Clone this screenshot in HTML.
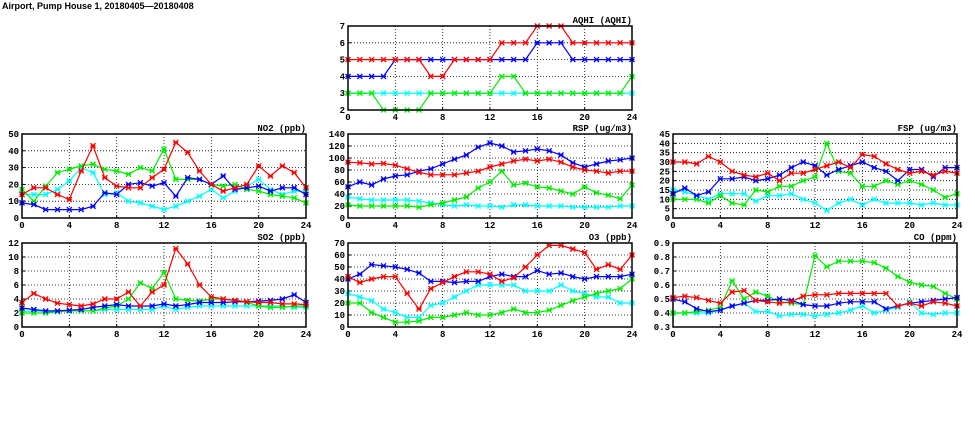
<!DOCTYPE html>
<html><head><meta charset="utf-8"><style>
body{margin:0;background:#fff;width:975px;height:447px;overflow:hidden}
svg{display:block}
text{font-family:"Liberation Mono","DejaVu Sans Mono",monospace;font-weight:bold;font-size:9px;fill:#000}
</style></head><body>
<svg id="s" width="975" height="447" xmlns="http://www.w3.org/2000/svg">
<text x="2" y="9" style="font-family:'Liberation Sans',sans-serif;font-size:9px">Airport, Pump House 1, 20180405—20180408</text>
</svg>
<script>
var S=document.getElementById('s'),h='';
var C={r:'#ff0000',b:'#0000ff',g:'#00ee00',c:'#00ffff'};
function chart(x0,y0,title,ymin,ymax,step,dec,d){
 var W=284,H=84,x1=x0+W,y1=y0+H;
 function X(i){return x0+i*W/24}function Y(v){return y1-(v-ymin)/(ymax-ymin)*H}
 for(var t=0;t<=24;t+=4){var x=X(t);if(t>0&&t<24)h+='<line x1="'+x+'" y1="'+y0+'" x2="'+x+'" y2="'+y1+'" stroke="#000" stroke-width="0.8" stroke-dasharray="1,2"/>';
  h+='<line x1="'+x+'" y1="'+y1+'" x2="'+x+'" y2="'+(y1-3)+'" stroke="#000"/><text x="'+x+'" y="'+(y1+10)+'" text-anchor="middle">'+t+'</text>';}
 for(var v=ymin;v<=ymax+1e-9;v+=step){var y=Y(v);if(v>ymin+1e-9&&v<ymax-1e-9)h+='<line x1="'+x0+'" y1="'+y+'" x2="'+x1+'" y2="'+y+'" stroke="#000" stroke-width="0.8" stroke-dasharray="1,2"/>';
  h+='<line x1="'+x0+'" y1="'+y+'" x2="'+(x0+3)+'" y2="'+y+'" stroke="#000"/><text x="'+(x0-3)+'" y="'+(y+3)+'" text-anchor="end">'+v.toFixed(dec)+'</text>';}
 h+='<text x="'+x1+'" y="'+(y0-3)+'" text-anchor="end">'+title+'</text>';
 ['c','g','b','r'].forEach(function(k){var a=d[k],p='';
  for(var i=0;i<25;i++)p+=X(i).toFixed(1)+','+Y(a[i]).toFixed(1)+' ';
  h+='<polyline points="'+p+'" fill="none" stroke="'+C[k]+'" stroke-width="1.2"/>';
  for(i=0;i<25;i++){var x=X(i),y=Y(a[i]),m=2.5;if(y>y1+1||y<y0-1)continue;
   h+='<path d="M'+(x-m)+','+(y-m)+'L'+(x+m)+','+(y+m)+'M'+(x+m)+','+(y-m)+'L'+(x-m)+','+(y+m)+'M'+(x-m)+','+y+'L'+(x+m)+','+y+'" stroke="'+C[k]+'" stroke-width="1.3"/>';}
 });
 h+='<rect x="'+x0+'" y="'+y0+'" width="'+W+'" height="'+H+'" fill="none" stroke="#000" stroke-width="1.5"/>';
}
chart(348,26,'AQHI (AQHI)',2,7,1,0,{
r:[5,5,5,5,5,5,5,4,4,5,5,5,5,6,6,6,7,7,7,6,6,6,6,6,6],
b:[4,4,4,4,5,5,5,5,5,5,5,5,5,5,5,5,6,6,6,5,5,5,5,5,5],
g:[3,3,3,2,2,2,2,3,3,3,3,3,3,4,4,3,3,3,3,3,3,3,3,3,4],
c:[3,3,3,3,3,3,3,3,3,3,3,3,3,3,3,3,3,3,3,3,3,3,3,3,3]});
chart(22,134,'NO2 (ppb)',0,50,10,0,{
r:[14,18,18,14,11,28,43,24,19,18,18,24,29,45,39,28,20,16,18,20,31,25,31,27,18],
b:[9,8,5,5,5,5,7,15,14,20,21,19,21,13,24,23,20,25,17,18,19,16,18,18,14],
g:[17,10,19,27,29,31,32,29,28,26,30,28,41,23,23,23,20,19,20,17,16,14,13,12,9],
c:[14,14,14,17,22,30,27,14,15,10,9,7,5,7,10,13,17,12,16,19,23,17,14,16,16]});
chart(348,134,'RSP (ug/m3)',0,140,20,0,{
r:[93,92,90,91,88,82,76,72,72,72,75,78,85,90,95,98,95,98,93,85,80,78,75,78,78],
b:[52,60,55,65,70,72,78,82,90,98,105,118,125,120,110,112,115,112,105,92,85,90,95,97,100],
g:[22,20,20,20,20,20,18,22,25,30,35,50,60,78,55,58,52,50,45,40,52,42,38,32,55],
c:[35,32,30,30,30,30,28,25,22,20,22,20,20,18,22,22,20,20,20,18,18,18,18,20,20]});
chart(673,134,'FSP (ug/m3)',0,45,5,0,{
r:[30,30,29,33,30,25,23,22,24,20,24,24,26,28,30,27,34,33,29,26,24,25,23,25,24],
b:[13,16,12,14,21,21,22,20,21,23,27,30,28,23,26,28,30,27,25,20,26,26,22,27,27],
g:[10,10,10,8,12,8,7,15,14,17,17,20,22,40,25,24,17,17,20,18,20,18,15,11,13],
c:[15,14,12,10,13,13,13,9,12,12,13,10,8,4,8,10,7,10,8,8,8,7,8,7,7]});
chart(22,243,'SO2 (ppb)',0,12,2,0,{
r:[3.5,4.8,4,3.4,3.2,3,3.3,4,4,5,3,5,6,11.2,9,6,4.3,4,3.8,3.6,3.5,3.5,3.3,3.3,3.2],
b:[2.7,2.5,2.3,2.3,2.4,2.5,2.8,3,3.2,3,3,3,3.3,3,3.2,3.5,3.5,3.5,3.6,3.6,3.7,3.8,4,4.6,3.5],
g:[2,2,2,2.2,2.3,2.3,2.3,2.7,3,4,6.3,5.5,7.8,4,3.8,3.7,4,4,3.8,3.5,3,2.8,2.8,3,3],
c:[2.2,2.3,2.2,2.2,2.3,2.3,2.3,2.5,2.5,2.5,2.5,2.5,3,2.5,2.8,3,3,3,3,3,3,3,3,2.8,2.8]});
chart(348,243,'O3 (ppb)',0,70,10,0,{
r:[42,37,40,42,42,28,15,32,37,42,46,46,44,38,41,50,60,68,68,65,62,48,52,48,60],
b:[40,44,52,51,50,48,45,38,38,37,38,38,42,44,42,42,47,44,45,42,40,42,42,42,44],
g:[20,20,12,8,4,4,5,8,8,10,12,10,10,12,15,12,12,14,18,22,25,28,30,32,40],
c:[28,25,22,15,12,8,8,18,20,25,30,35,35,35,35,30,30,30,35,30,28,25,25,20,20]});
chart(673,243,'CO (ppm)',0.3,0.9,0.1,1,{
r:[.51,.52,.51,.49,.47,.55,.56,.49,.48,.47,.48,.52,.53,.53,.54,.54,.54,.54,.54,.45,.47,.45,.48,.47,.45],
b:[.5,.48,.43,.41,.42,.45,.47,.49,.49,.5,.49,.46,.45,.45,.47,.48,.48,.48,.43,.45,.47,.48,.49,.5,.51],
g:[.4,.4,.41,.42,.44,.63,.5,.55,.52,.48,.47,.46,.81,.73,.77,.77,.77,.76,.72,.66,.62,.6,.59,.54,.5],
c:[.4,.4,.4,.4,.42,.45,.47,.41,.41,.38,.39,.39,.38,.39,.4,.42,.45,.4,.42,.44,.48,.4,.39,.4,.4]});
S.insertAdjacentHTML('beforeend',h);
</script>
</body></html>
